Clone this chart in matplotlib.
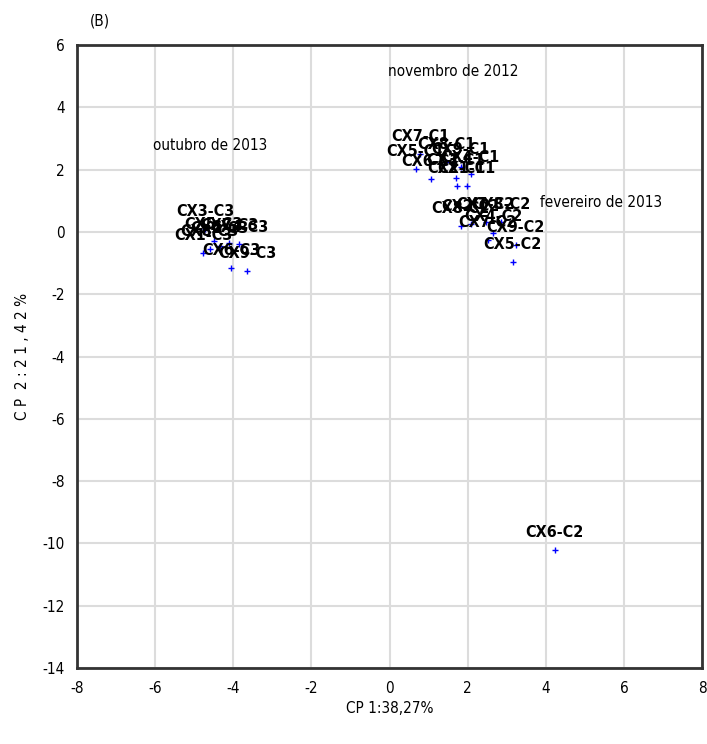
import matplotlib
matplotlib.use("Agg")
import matplotlib.pyplot as plt

plt.rcParams['font.family'] = ['DejaVu Sans']
plt.rcParams['font.stretch'] = 'condensed'
plt.rcParams['axes.unicode_minus'] = False

# PCA scores (CP 1, CP 2) for each sample, grouped by sampling campaign
labels_c1 = ["CX1-C1", "CX2-C1", "CX3-C1", "CX4-C1", "CX5-C1", "CX6-C1", "CX7-C1", "CX8-C1", "CX9-C1"]
cp1_c1 = [1.97, 1.72, 1.69, 2.08, 0.67, 1.05, 0.79, 1.45, 1.82]
cp2_c1 = [1.48, 1.48, 1.73, 1.85, 2.02, 1.70, 2.50, 2.25, 2.10]

labels_c2 = ["CX1-C2", "CX2-C2", "CX3-C2", "CX4-C2", "CX5-C2", "CX6-C2", "CX7-C2", "CX8-C2", "CX9-C2"]
cp1_c2 = [2.46, 2.08, 2.85, 2.65, 3.15, 4.23, 2.51, 1.82, 3.23]
cp2_c2 = [0.32, 0.26, 0.32, -0.05, -0.96, -10.21, -0.26, 0.19, -0.42]

labels_c3 = ["CX1-C3", "CX2-C3", "CX3-C3", "CX4-C3", "CX5-C3", "CX6-C3", "CX7-C3", "CX8-C3", "CX9-C3"]
cp1_c3 = [-4.77, -4.35, -4.72, -3.85, -4.50, -4.05, -4.10, -4.60, -3.64]
cp2_c3 = [-0.67, -0.45, 0.10, -0.40, -0.30, -1.16, -0.35, -0.55, -1.25]

# Campaign names and where they are written
group_names = ["novembro de 2012", "outubro de 2013", "fevereiro de 2013"]
group_x = [1.62, -4.59, 5.41]
group_y = [5.14, 2.79, 0.96]

x_ticks = [-8, -6, -4, -2, 0, 2, 4, 6, 8]
y_ticks = [6, 4, 2, 0, -2, -4, -6, -8, -10, -12, -14]

fig = plt.figure(figsize=(7.07, 7.44), dpi=100)
ax = fig.add_axes([0.109, 0.102, 0.884, 0.8375])

ax.set_xlim(-8, 8)
ax.set_ylim(-14, 6)
ax.set_xticks(x_ticks)
ax.set_yticks(y_ticks)
ax.grid(True, color="#dcdcdc", linewidth=1.5)
ax.set_axisbelow(True)
ax.tick_params(length=0, labelsize=11)
ax.tick_params(axis="x", pad=9)
ax.tick_params(axis="y", pad=9)

for s in ax.spines.values():
    s.set_color("#333333")
    s.set_linewidth(2)

all_labels = labels_c1 + labels_c2 + labels_c3
all_x = cp1_c1 + cp1_c2 + cp1_c3
all_y = cp2_c1 + cp2_c2 + cp2_c3

ax.scatter(all_x, all_y, marker="+", s=14, color="#0000ff", linewidths=1, zorder=3)
for lab, x, y in zip(all_labels, all_x, all_y):
    ax.annotate(lab, (x, y), xytext=(0, 7), textcoords="offset points",
                ha="center", va="bottom", fontsize=11.5, fontweight="bold",
                color="black", zorder=4)

for name, x, y in zip(group_names, group_x, group_y):
    ax.text(x, y, name, ha="center", va="center", fontsize=11, color="black")

ax.set_xlabel("CP 1:38,27%", fontsize=11, labelpad=4)
ax.set_ylabel("C P  2 : 2 1 , 4 2 %", fontsize=11, labelpad=9)

fig.text(0.141, 0.972, "(B)", ha="center", va="center", fontsize=11)

fig.savefig("out.png", dpi=100)
